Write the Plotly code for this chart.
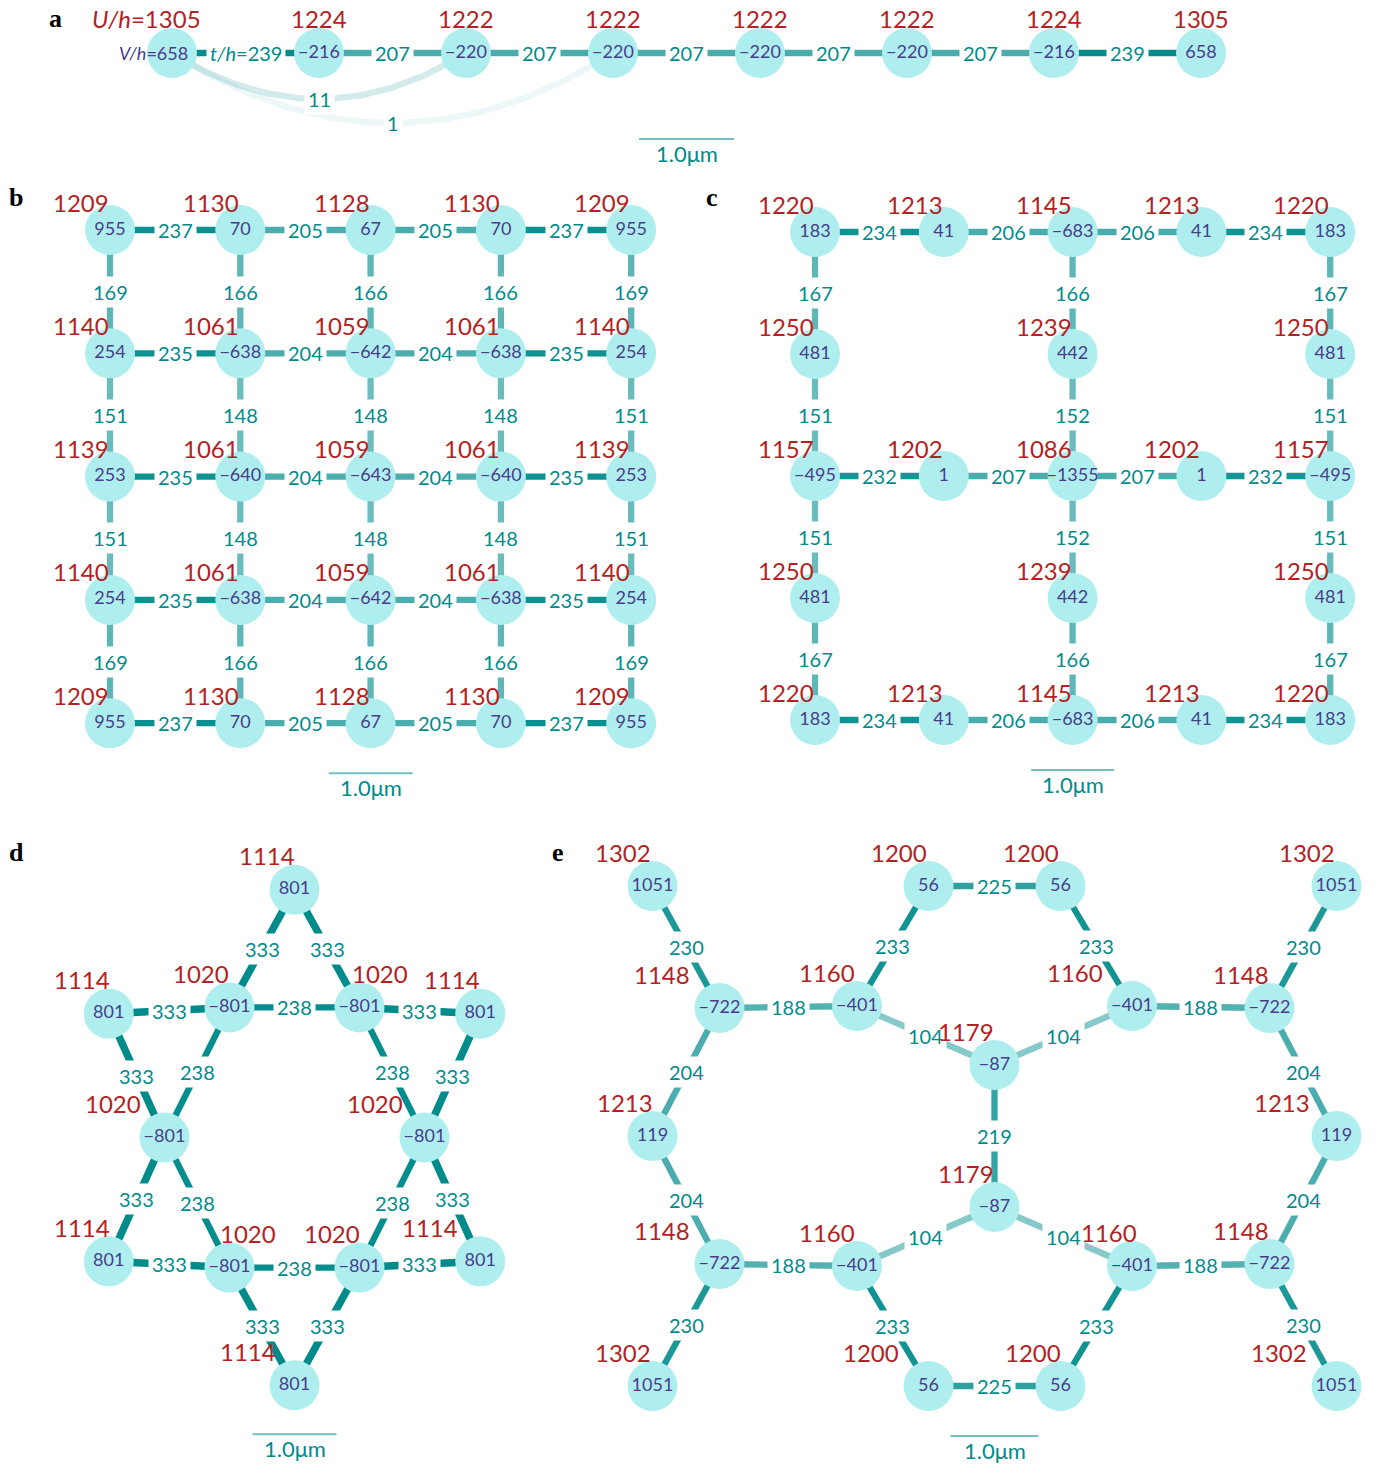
import numpy as np
import plotly.graph_objects as go

W, H = 1385, 1465

# ---------------------------------------------------------------- data
# panel a : 8-site chain
a_V = [658, -216, -220, -220, -220, -220, -216, 658]
a_U = [1305, 1224, 1222, 1222, 1222, 1222, 1224, 1305]
a_t = [239, 207, 207, 207, 207, 207, 239]
a_long_pairs = [(0, 2), (0, 3)]
a_long_t = [11, 1]

# panel b : 5x5 square lattice
b_V = [[955, 70, 67, 70, 955],
       [254, -638, -642, -638, 254],
       [253, -640, -643, -640, 253],
       [254, -638, -642, -638, 254],
       [955, 70, 67, 70, 955]]
b_U = [[1209, 1130, 1128, 1130, 1209],
       [1140, 1061, 1059, 1061, 1140],
       [1139, 1061, 1059, 1061, 1139],
       [1140, 1061, 1059, 1061, 1140],
       [1209, 1130, 1128, 1130, 1209]]
b_t_h = [[237, 205, 205, 237],
         [235, 204, 204, 235],
         [235, 204, 204, 235],
         [235, 204, 204, 235],
         [237, 205, 205, 237]]
b_t_v = [[169, 166, 166, 166, 169],
         [151, 148, 148, 148, 151],
         [151, 148, 148, 148, 151],
         [169, 166, 166, 166, 169]]

# panel c : lattice with holes
c_V = [[183, 41, -683, 41, 183],
       [481, None, 442, None, 481],
       [-495, 1, -1355, 1, -495],
       [481, None, 442, None, 481],
       [183, 41, -683, 41, 183]]
c_U = [[1220, 1213, 1145, 1213, 1220],
       [1250, None, 1239, None, 1250],
       [1157, 1202, 1086, 1202, 1157],
       [1250, None, 1239, None, 1250],
       [1220, 1213, 1145, 1213, 1220]]
c_h_rows = [0, 2, 4]
c_t_h = [[234, 206, 206, 234],
         [232, 207, 207, 232],
         [234, 206, 206, 234]]
c_v_cols = [0, 2, 4]
c_t_v = [[167, 151, 151, 167],
         [166, 152, 152, 166],
         [167, 151, 151, 167]]

# panel d : hexagram (inner hexagon + 6 outer tips)
d_V_inner = [-801, -801, -801, -801, -801, -801]
d_U_inner = [1020, 1020, 1020, 1020, 1020, 1020]
d_V_outer = [801, 801, 801, 801, 801, 801]
d_U_outer = [1114, 1114, 1114, 1114, 1114, 1114]
d_t_ring = [238, 238, 238, 238, 238, 238]
d_t_spoke = [333, 333, 333, 333, 333, 333, 333, 333, 333, 333, 333, 333]

# panel e : 20-site structure
e_V = [1051, 1051, 1051, 1051, 56, 56, 56, 56,
       -722, -722, -722, -722, -401, -401, -401, -401,
       -87, -87, 119, 119]
e_U = [1302, 1302, 1302, 1302, 1200, 1200, 1200, 1200,
       1148, 1148, 1148, 1148, 1160, 1160, 1160, 1160,
       1179, 1179, 1213, 1213]
e_edges = [(0, 8), (1, 9), (2, 10), (3, 11),
           (8, 18), (10, 18), (9, 19), (11, 19),
           (8, 12), (9, 13), (10, 14), (11, 15),
           (12, 4), (13, 5), (14, 6), (15, 7),
           (4, 5), (6, 7),
           (12, 16), (13, 16), (14, 17), (15, 17),
           (16, 17)]
e_t = [230, 230, 230, 230,
       204, 204, 204, 204,
       188, 188, 188, 188,
       233, 233, 233, 233,
       225, 225,
       104, 104, 104, 104,
       219]

# ---------------------------------------------------------------- style
NODE_FILL = "#AFEEEE"
NODE_TXT = "#483D8B"
U_TXT = "#B22222"
T_TXT = "#008B8B"
FONT = "Lato"
NODE_SIZE = 50
T_REF = [0, 1, 11, 104, 150, 166, 190, 207, 225, 233, 240, 400]
A_REF = [0.05, 0.07, 0.17, 0.47, 0.58, 0.63, 0.68, 0.71, 0.82, 0.93, 1.0, 1.0]


def edge_color(t):
    a = float(np.interp(t, T_REF, A_REF))
    return f"rgba(0,139,139,{a:.3f})"


def edge_width(t):
    return 7.5 if t > 300 else 6.3


def fmt(v):
    return str(v).replace("-", "\u2212")


fig = go.Figure()
annotations = []
red_annotations = []
shapes = []


def setup_axes(k, region, origin, s):
    x0, x1, y0, y1 = region
    ox, oy = origin
    xa = "xaxis" if k == 1 else f"xaxis{k}"
    ya = "yaxis" if k == 1 else f"yaxis{k}"
    xr = "x" if k == 1 else f"x{k}"
    yr = "y" if k == 1 else f"y{k}"
    fig.layout[xa] = dict(domain=[x0 / W, x1 / W], range=[(x0 - ox) / s, (x1 - ox) / s],
                          visible=False, fixedrange=True, anchor=yr)
    fig.layout[ya] = dict(domain=[1 - y1 / H, 1 - y0 / H], range=[(oy - y1) / s, (oy - y0) / s],
                          visible=False, fixedrange=True, anchor=xr)
    return xr, yr


def draw_panel(k, region, origin, s, pos, V, U, edges, ts, ushift_x, ushift_y,
               bar_gap, curves=None, special_a=False):
    xr, yr = setup_axes(k, region, origin, s)
    # edges
    for (i, j), t in zip(edges, ts):
        fig.add_trace(go.Scatter(x=[pos[i][0], pos[j][0]], y=[pos[i][1], pos[j][1]],
                                 mode="lines", line=dict(color=edge_color(t), width=edge_width(t)),
                                 xaxis=xr, yaxis=yr, hoverinfo="skip", showlegend=False))
    curve_mids = []
    if curves:
        for (i, j), t, depth in curves:
            p0 = np.array(pos[i]); p2 = np.array(pos[j])
            p1 = (p0 + p2) / 2 + np.array([0, -2 * depth])
            tt = np.linspace(0, 1, 80)[:, None]
            pts = (1 - tt) ** 2 * p0 + 2 * (1 - tt) * tt * p1 + tt ** 2 * p2
            fig.add_trace(go.Scatter(x=pts[:, 0], y=pts[:, 1], mode="lines",
                                     line=dict(color=edge_color(t), width=6.3),
                                     xaxis=xr, yaxis=yr, hoverinfo="skip", showlegend=False))
            mid = 0.25 * p0 + 0.5 * p1 + 0.25 * p2
            curve_mids.append((mid, t))
    # nodes
    xs = [p[0] for p in pos]
    ys = [p[1] for p in pos]
    texts = [fmt(v) for v in V]
    if special_a:
        texts[0] = ""
    fig.add_trace(go.Scatter(x=xs, y=ys, mode="markers+text", text=texts,
                             textposition="middle center",
                             textfont=dict(family=FONT, size=18, color=NODE_TXT),
                             marker=dict(size=NODE_SIZE, color=NODE_FILL, line=dict(width=0)),
                             cliponaxis=False, xaxis=xr, yaxis=yr,
                             hoverinfo="skip", showlegend=False))
    # edge labels
    for n, ((i, j), t) in enumerate(zip(edges, ts)):
        mx = (pos[i][0] + pos[j][0]) / 2
        my = (pos[i][1] + pos[j][1]) / 2
        txt = str(t)
        if special_a and n == 0:
            txt = f"<i>t/h</i>={t}"
        annotations.append(dict(x=mx, y=my, xref=xr, yref=yr, text=txt, showarrow=False,
                                bgcolor="white", borderpad=3,
                                font=dict(family=FONT, size=20, color=T_TXT)))
    for mid, t in curve_mids:
        annotations.append(dict(x=mid[0], y=mid[1], xref=xr, yref=yr, text=str(t),
                                showarrow=False, bgcolor="white", borderpad=3,
                                font=dict(family=FONT, size=20, color=T_TXT)))
    # U labels
    for n, (p, u) in enumerate(zip(pos, U)):
        if special_a and n == 0:
            red_annotations.append(dict(x=p[0], y=p[1], xref=xr, yref=yr,
                                        text=f"<i>U/h</i>={u}", showarrow=False,
                                        xanchor="right", xshift=31, yshift=ushift_y,
                                        font=dict(family=FONT, size=24, color=U_TXT)))
            red_annotations.append(dict(x=p[0], y=p[1], xref=xr, yref=yr,
                                        text=f"<i>V/h</i>={fmt(V[0])}", showarrow=False,
                                        xanchor="right", xshift=18,
                                        font=dict(family=FONT, size=18, color=NODE_TXT)))
            continue
        red_annotations.append(dict(x=p[0], y=p[1], xref=xr, yref=yr, text=str(u),
                                    showarrow=False, xshift=ushift_x[n], yshift=ushift_y,
                                    font=dict(family=FONT, size=24, color=U_TXT)))
    # scale bar (1.0 um)
    cx = (min(xs) + max(xs)) / 2
    by = min(ys) - bar_gap / s
    shapes.append(dict(type="line", xref=xr, yref=yr, x0=cx - 0.5, x1=cx + 0.5, y0=by, y1=by,
                       line=dict(color="rgba(0,139,139,0.55)", width=2)))
    annotations.append(dict(x=cx, y=by, xref=xr, yref=yr, text="1.0\u03bcm", showarrow=False,
                            yshift=-14, font=dict(family=FONT, size=22, color=T_TXT)))


# ---------------- panel a
A_S = 95.0
A_DX = 147.0 / A_S
a_pos = [(i * A_DX, 0.0) for i in range(len(a_V))]
a_edges = [(i, i + 1) for i in range(len(a_V) - 1)]
a_curves = [(pr, t, d) for pr, t, d in zip(a_long_pairs, a_long_t, [46 / A_S, 70 / A_S])]
draw_panel(1, (0, W, 0, 170), (172, 53), A_S, a_pos, a_V, a_U, a_edges, a_t,
           [0] * len(a_V), 35, 86, curves=a_curves, special_a=True)


# ---------------- grid helper
def grid_panel(k, region, origin, s, dx, dy, V, U, h_rows, t_h, v_cols, t_v, ushy):
    idx = {}
    pos, Vl, Ul = [], [], []
    for r in range(len(V)):
        for c in range(len(V[r])):
            if V[r][c] is None:
                continue
            idx[(r, c)] = len(pos)
            pos.append((c * dx, -r * dy))
            Vl.append(V[r][c])
            Ul.append(U[r][c])
    edges, ts = [], []
    for r, row in zip(h_rows, t_h):
        for c, t in enumerate(row):
            edges.append((idx[(r, c)], idx[(r, c + 1)]))
            ts.append(t)
    for c, col in zip(v_cols, t_v):
        for r, t in enumerate(col):
            edges.append((idx[(r, c)], idx[(r + 1, c)]))
            ts.append(t)
    draw_panel(k, region, origin, s, pos, Vl, Ul, edges, ts, [-29] * len(pos), ushy, 50)


# panel b
B_S = 84.0
grid_panel(2, (0, 690, 175, 815), (110, 230), B_S, 130.3 / B_S, 123.3 / B_S,
           b_V, b_U, list(range(5)), b_t_h, list(range(5)),
           [list(col) for col in zip(*b_t_v)], 28)

# panel c
C_S = 83.0
grid_panel(3, (690, W, 175, 815), (815, 232), C_S, 128.8 / C_S, 122.0 / C_S,
           c_V, c_U, c_h_rows, c_t_h, c_v_cols, c_t_v, 28)

# ---------------- panel d
D_S = 84.0
D_R = 130.0 / D_S
D_YST = 1.155
D_OUT = 1.65
d_pos = []
for k in range(6):
    th = np.deg2rad(60 * k)
    d_pos.append((D_R * np.cos(th), D_R * D_YST * np.sin(th)))
for k in range(6):
    ph = np.deg2rad(30 + 60 * k)
    d_pos.append((D_OUT * D_R * np.cos(ph), D_OUT * D_R * D_YST * np.sin(ph)))
d_edges, d_ts = [], []
for k in range(6):
    d_edges.append((k, (k + 1) % 6)); d_ts.append(d_t_ring[k])
for k in range(6):
    d_edges.append((6 + k, k)); d_ts.append(d_t_spoke[2 * k])
    d_edges.append((6 + k, (k + 1) % 6)); d_ts.append(d_t_spoke[2 * k + 1])
d_ushift = [-50, 20, -29, -52, 18, -28, -28, -28, -27, -27, -47, -50]
draw_panel(4, (0, 560, 825, H), (294.5, 1137.5), D_S, d_pos,
           d_V_inner + d_V_outer, d_U_inner + d_U_outer, d_edges, d_ts, d_ushift, 34, 49)

# ---------------- panel e
E_S = 88.0
e_base = {1051: (342, 250), 56: (66, 250), -722: (275, 128), -401: (137.5, 130),
          -87: (0, 71), 119: (342, 0)}
e_signs = [(-1, 1), (1, 1), (-1, -1), (1, -1)] * 4 + [(1, 1), (1, -1), (-1, 1), (1, 1)]
e_pos = []
for v, (sx, sy) in zip(e_V, e_signs):
    bx, by = e_base[v]
    e_pos.append((sx * bx / E_S, sy * by / E_S))
e_ushift = [-30, -30, -30, -58,
            -30, -30, -58, -28,
            -58, -29, -58, -29,
            -30, -57, -30, -23,
            -29, -29, -28, -55]
draw_panel(5, (560, W, 825, H), (994.5, 1136), E_S, e_pos, e_V, e_U, e_edges, e_t,
           e_ushift, 34, 50)

# panel letters
for letter, (px, py) in zip("abcde", [(55, 18), (16, 197), (712, 197), (16, 852), (558, 852)]):
    annotations.append(dict(x=px / W, y=1 - py / H, xref="paper", yref="paper", text=f"<b>{letter}</b>",
                            xanchor="center", yanchor="middle",
                            showarrow=False, font=dict(family="Liberation Serif", size=26, color="black")))

fig.update_layout(width=W, height=H, margin=dict(l=0, r=0, t=0, b=0), autosize=False,
                  paper_bgcolor="white", plot_bgcolor="rgba(0,0,0,0)",
                  annotations=annotations + red_annotations, shapes=shapes, showlegend=False)
fig.write_html("out.html", config={"displayModeBar": False},
               post_script="document.body.style.margin='0px';document.body.style.padding='0px';")
